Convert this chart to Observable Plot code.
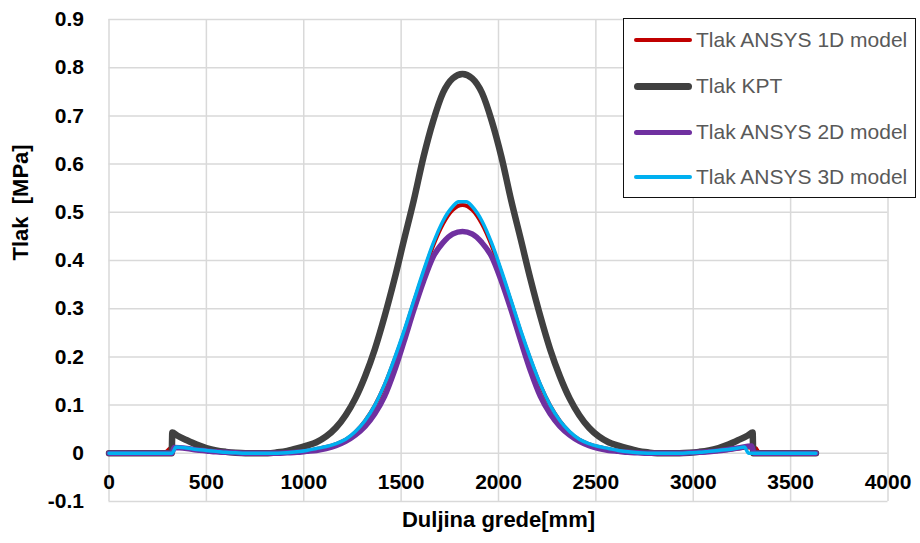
<!DOCTYPE html>
<html>
<head>
<meta charset="utf-8">
<script src="https://cdn.jsdelivr.net/npm/d3@7"></script>
<script src="https://cdn.jsdelivr.net/npm/@observablehq/plot@0.6"></script>
<style>
  body { margin: 0; background: #fff; }
  #wrap { position: relative; width: 920px; height: 543px; font-family: "Liberation Sans", Arial, sans-serif; }
  #legend { position: absolute; left: 623px; top: 18px; width: 293px; height: 180px; box-sizing: border-box; border: 1.5px solid #111; background: #fff; }
  .row { position: absolute; left: 0; height: 0; }
  .sw { position: absolute; left: 10px; width: 58px; border-radius: 4px; }
  .lb { position: absolute; left: 72px; top: -13px; font-size: 21px; color: #595959; white-space: nowrap; line-height: 26px; }
</style>
</head>
<body>
<div id="wrap"></div>
<script>
const xTicks = [0, 500, 1000, 1500, 2000, 2500, 3000, 3500, 4000];
const yTicks = [-0.1, 0, 0.1, 0.2, 0.3, 0.4, 0.5, 0.6, 0.7, 0.8, 0.9];
const yTickLabels = ["-0.1", "0", "0.1", "0.2", "0.3", "0.4", "0.5", "0.6", "0.7", "0.8", "0.9"];

const seriesNames = ["Tlak ANSYS 1D model", "Tlak KPT", "Tlak ANSYS 2D model", "Tlak ANSYS 3D model"];
const seriesColors = ["#C00000", "#404040", "#7030A0", "#00B0F0"];
const seriesWidths = [4, 6.5, 5.5, 3.5];

const ansys1D = [[0,0],[280,0],[300,0.005],[320,0.012],[345,0.012],[400,0.010],[450,0.007],[500,0.005],[550,0.003],[600,0.002],[650,0.001],[700,0],
 [815,0],[865,0],[915,0.001],[965,0.002],[1015,0.005],[1065,0.009],[1115,0.013],[1165,0.019],[1215,0.028],[1265,0.044],[1315,0.067],[1365,0.099],[1415,0.141],[1465,0.193],[1515,0.250],[1565,0.313],[1615,0.374],[1665,0.431],[1715,0.476],[1765,0.505],[1815,0.515],
 [1865,0.505],[1915,0.476],[1965,0.431],[2015,0.374],[2065,0.313],[2115,0.250],[2165,0.193],[2215,0.141],[2265,0.099],[2315,0.067],[2365,0.044],[2415,0.028],[2465,0.019],[2515,0.013],[2565,0.009],[2615,0.005],[2665,0.002],[2715,0.001],[2765,0],[2815,0],
 [2930,0],[2980,0.001],[3030,0.002],[3080,0.003],[3130,0.005],[3180,0.007],[3230,0.010],[3285,0.012],[3320,0.011],[3340,0],[3630,0]];

const kpt = [[0,0],[322,0],[325,0.043],[350,0.037],[400,0.027],[450,0.018],[500,0.011],[550,0.006],[600,0.003],[650,0.001],[700,0],
 [815,0],[865,0.002],[915,0.005],[965,0.010],[1015,0.016],[1065,0.023],[1115,0.035],[1165,0.053],[1215,0.079],[1265,0.114],[1315,0.160],[1365,0.216],[1415,0.284],[1465,0.360],[1515,0.443],[1565,0.525],[1615,0.615],[1665,0.690],[1715,0.748],[1765,0.778],[1815,0.787],
 [1865,0.778],[1915,0.748],[1965,0.690],[2015,0.615],[2065,0.525],[2115,0.443],[2165,0.360],[2215,0.284],[2265,0.216],[2315,0.160],[2365,0.114],[2415,0.079],[2465,0.053],[2515,0.035],[2565,0.023],[2615,0.016],[2665,0.010],[2715,0.005],[2765,0.002],[2815,0],
 [2930,0],[2980,0.001],[3030,0.003],[3080,0.006],[3130,0.011],[3180,0.018],[3230,0.027],[3280,0.037],[3305,0.043],[3308,0],[3630,0]];

const ansys2D = [[0,0],[322,0],[335,0.012],[400,0.010],[450,0.007],[500,0.005],[550,0.003],[600,0.002],[650,0.001],[700,0],
 [815,0],[865,0],[915,0.001],[965,0.002],[1015,0.004],[1065,0.006],[1115,0.010],[1165,0.016],[1215,0.025],[1265,0.038],[1315,0.056],[1365,0.082],[1415,0.118],[1465,0.170],[1515,0.232],[1565,0.297],[1615,0.357],[1665,0.408],[1715,0.437],[1765,0.455],[1815,0.460],
 [1865,0.455],[1915,0.437],[1965,0.408],[2015,0.357],[2065,0.297],[2115,0.232],[2165,0.170],[2215,0.118],[2265,0.082],[2315,0.056],[2365,0.038],[2415,0.025],[2465,0.016],[2515,0.010],[2565,0.006],[2615,0.004],[2665,0.002],[2715,0.001],[2765,0],[2815,0],
 [2930,0],[2980,0.001],[3030,0.002],[3080,0.003],[3130,0.005],[3180,0.008],[3230,0.011],[3300,0.015],[3312,0],[3630,0]];

const ansys3D = [[0,0],[322,0],[345,0.013],[400,0.011],[450,0.008],[500,0.006],[550,0.004],[600,0.002],[650,0.001],[700,0],
 [815,0],[865,0],[915,0.001],[965,0.003],[1015,0.006],[1065,0.010],[1115,0.014],[1165,0.020],[1215,0.029],[1265,0.045],[1315,0.068],[1365,0.100],[1415,0.143],[1465,0.196],[1515,0.254],[1565,0.317],[1615,0.379],[1665,0.436],[1715,0.482],[1765,0.512],[1795,0.522],[1835,0.522],
 [1865,0.512],[1915,0.482],[1965,0.436],[2015,0.379],[2065,0.317],[2115,0.254],[2165,0.196],[2215,0.143],[2265,0.100],[2315,0.068],[2365,0.045],[2415,0.029],[2465,0.020],[2515,0.014],[2565,0.010],[2615,0.006],[2665,0.003],[2715,0.001],[2765,0],[2815,0],
 [2930,0],[2980,0.001],[3030,0.002],[3080,0.004],[3130,0.006],[3180,0.008],[3230,0.011],[3262,0.013],[3285,0],[3630,0]];

const allSeries = [ansys1D, kpt, ansys2D, ansys3D];
const font = "'Liberation Sans', Arial, sans-serif";

const lineMarks = allSeries.map((pts, i) =>
  Plot.line(pts, {x: d => d[0], y: d => d[1], stroke: seriesColors[i], strokeWidth: seriesWidths[i],
    curve: "monotone-x", strokeLinejoin: "round", strokeLinecap: "round"}));

const chart = Plot.plot({
  width: 920, height: 543,
  marginLeft: 108.5, marginRight: 32.5, marginTop: 19, marginBottom: 42,
  x: {domain: [0, 4000], axis: null},
  y: {domain: [-0.1, 0.9], axis: null},
  style: {fontFamily: font, background: "#fff", overflow: "visible"},
  marks: [
    Plot.ruleX(xTicks, {x: d => d, stroke: "#d9d9d9", strokeWidth: 1.5}),
    Plot.ruleY(yTicks, {y: d => d, stroke: "#d9d9d9", strokeWidth: 1.5}),
    Plot.text(xTicks, {x: d => d, frameAnchor: "bottom", dy: -13, text: d => String(d), fontSize: 21, fontWeight: "bold", fill: "#000"}),
    Plot.text(yTicks, {y: d => d, frameAnchor: "left", dx: -25, textAnchor: "end", text: (d, i) => yTickLabels[i], fontSize: 21, fontWeight: "bold", fill: "#000"}),
    ...lineMarks,
    Plot.text(["Duljina grede[mm]"], {frameAnchor: "bottom", dy: 25, text: d => d, fontSize: 22, fontWeight: "bold", fill: "#000"}),
    Plot.text(["Tlak\u00a0 [MPa]"], {frameAnchor: "left", dx: -88, rotate: -90, text: d => d, fontSize: 22, fontWeight: "bold", fill: "#000"})
  ]
});

const wrap = document.getElementById("wrap");
wrap.appendChild(chart);

const legend = document.createElement("div");
legend.id = "legend";
const rowTops = [21, 67, 113, 158];
seriesNames.forEach((name, i) => {
  const row = document.createElement("div");
  row.className = "row";
  row.style.top = rowTops[i] + "px";
  const sw = document.createElement("div");
  sw.className = "sw";
  const h = [4.5, 7, 5, 3.5][i];
  sw.style.height = h + "px";
  sw.style.top = (-h / 2) + "px";
  sw.style.background = seriesColors[i];
  const lb = document.createElement("div");
  lb.className = "lb";
  lb.textContent = name;
  row.appendChild(sw);
  row.appendChild(lb);
  legend.appendChild(row);
});
wrap.appendChild(legend);
</script>
</body>
</html>
